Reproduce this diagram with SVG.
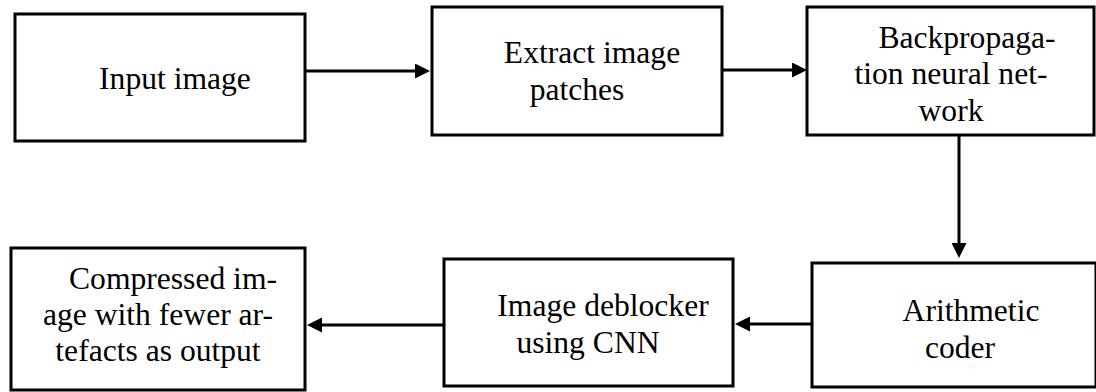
<svg xmlns="http://www.w3.org/2000/svg" width="1096" height="392" viewBox="0 0 1096 392">
<style>
.box{fill:#fff;stroke:#000;stroke-width:3}
.con{stroke:#000;stroke-width:3;fill:none;marker-end:url(#ah)}
</style>
<defs>
<marker id="ah" markerUnits="userSpaceOnUse" markerWidth="15" markerHeight="15" refX="3" refY="7.5" orient="auto">
<path d="M0,0 L15,7.5 L0,15 z" fill="#000"/>
</marker>
</defs>
<rect width="1096" height="392" fill="#fff"/>
<g id="connectors">
<line class="con" x1="305" y1="71" x2="418" y2="71"/>
<line class="con" x1="722" y1="70" x2="795" y2="70"/>
<line class="con" x1="959" y1="135" x2="959" y2="246"/>
<line class="con" x1="812" y1="324" x2="747" y2="324"/>
<line class="con" x1="444" y1="325" x2="319" y2="325"/>
</g>
<g font-family="Liberation Serif, serif" font-size="31.6" fill="#000" text-anchor="middle">
<g id="input">
<rect class="box" x="15" y="14" width="290" height="127"/>
<text x="175" y="89">Input image</text>
</g>
<g id="extract">
<rect class="box" x="432" y="7" width="290" height="128"/>
<text x="592" y="63">Extract image</text>
<text x="577" y="100">patches</text>
</g>
<g id="backprop">
<rect class="box" x="807" y="7" width="287" height="128"/>
<text x="967" y="48">Backpropaga-</text>
<text x="951" y="84">tion neural net-</text>
<text x="951" y="121">work</text>
</g>
<g id="arith">
<rect class="box" x="812" y="263" width="284" height="124"/>
<text x="971" y="321">Arithmetic</text>
<text x="960" y="358">coder</text>
</g>
<g id="deblock">
<rect class="box" x="444" y="259" width="289" height="127"/>
<text x="603" y="316">Image deblocker</text>
<text x="588" y="353">using CNN</text>
</g>
<g id="output">
<rect class="box" x="11" y="248" width="294" height="142"/>
<text x="173" y="289">Compressed im-</text>
<text x="158" y="325">age with fewer ar-</text>
<text x="158" y="361">tefacts as output</text>
</g>
</g>
</svg>
